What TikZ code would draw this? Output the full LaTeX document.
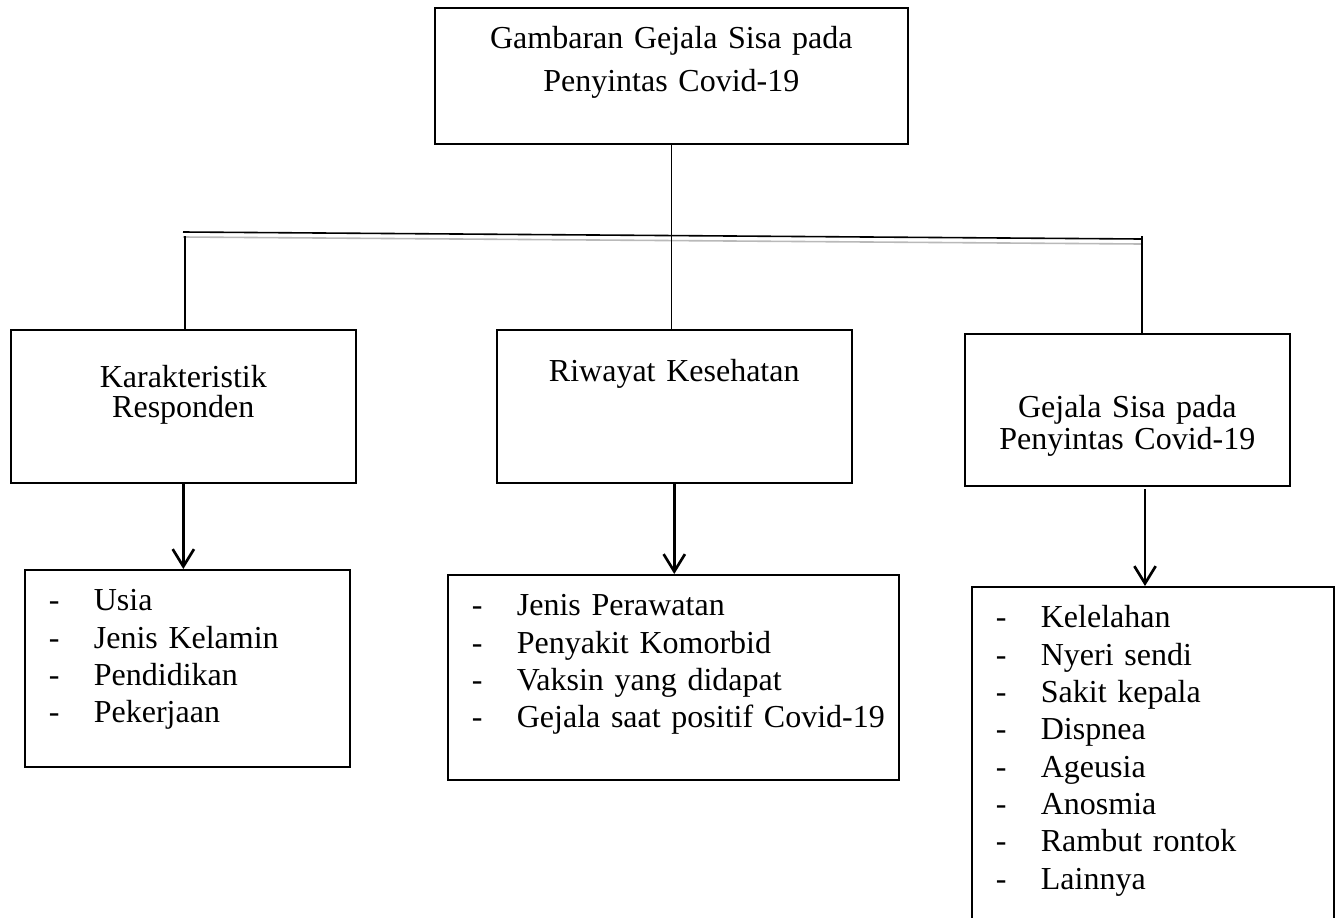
\documentclass[tikz,border=0pt]{standalone}
\usepackage{fontspec}
\setmainfont{Liberation Serif}
\usetikzlibrary{arrows.meta}

\newcommand{\itm}[1]{\makebox[16.9pt][l]{-}\mbox{#1}}

\begin{document}
\begin{tikzpicture}[
  x=0.375pt, y=-0.375pt,
  hbox/.style={draw, line width=0.6pt, anchor=north west, align=center,
               inner sep=0pt, font=\fontsize{12}{12}\selectfont},
  lbox/.style={draw, line width=0.6pt, anchor=north west, align=left,
               inner xsep=9pt, inner ysep=0pt, text height=15.4pt,
               font=\fontsize{12}{14}\selectfont},
  conn/.style={line width=0.6pt},
  arr/.style={line width=1.1pt,
              -{Straight Barb[length=6.5pt, width=8pt, line width=1pt]}},
]
  \useasboundingbox (0,0) rectangle (1337,917);

  % Top box
  \node[hbox, text width=177.4pt, text height=15.4pt, text depth=35.6pt,
        font=\fontsize{12}{16.1}\selectfont] (judul) at (434,7)
    {Gambaran Gejala Sisa pada\\Penyintas Covid-19};

  % Three sub-boxes
  \node[hbox, text width=129.4pt, text height=21.75pt, text depth=35.75pt,
        font=\fontsize{12}{11}\selectfont]
    (karakter) at (10,329) {Karakteristik\\Responden};
  \node[hbox, text width=133.1pt, text height=19.5pt, text depth=37.9pt]
    (riwayat) at (496,329) {Riwayat Kesehatan};
  \node[hbox, text width=121.9pt, text height=31.5pt, text depth=25.5pt]
    (gejala) at (964,333) {Gejala Sisa pada\\Penyintas Covid-19};

  % Lists
  \node[lbox, text width=103.9pt, text depth=58.5pt] (list1) at (24,569)
    {\itm{Usia}\\\itm{Jenis Kelamin}\\\itm{Pendidikan}\\\itm{Pekerjaan}};
  \node[lbox, text width=151.1pt, text depth=61.5pt] (list2) at (447,574)
    {\itm{Jenis Perawatan}\\\itm{Penyakit Komorbid}\\
     \itm{Vaksin yang didapat}\\\itm{Gejala saat positif Covid-19}};
  \node[lbox, text width=117.75pt, text depth=115.6pt] (list3) at (971,586)
    {\itm{Kelelahan}\\\itm{Nyeri sendi}\\\itm{Sakit kepala}\\\itm{Dispnea}\\
     \itm{Ageusia}\\\itm{Anosmia}\\\itm{Rambut rontok}\\\itm{Lainnya}};

  % Branch bar (double line)
  \coordinate (barA) at (183,232);
  \coordinate (barB) at (1141,239);
  \coordinate (barC) at (183,237);
  \coordinate (barD) at (1141,244);
  \coordinate (kiri) at (185,236);
  \coordinate (kanan) at (1142,236);
  \coordinate (panah) at (1145,489);
  \draw[conn] (barA) -- (barB);
  \draw[conn, gray!55] (barC) -- (barD);

  % Connectors
  \draw[conn] (judul.south) -- (judul.south |- riwayat.north);
  \draw[conn] (kiri) -- (kiri |- karakter.north);
  \draw[conn] (kanan) -- (kanan |- gejala.north);

  % Arrows to the lists
  \draw[arr] (karakter.south) -- (karakter.south |- list1.north);
  \draw[arr] (riwayat.south) -- (riwayat.south |- list2.north);
  \draw[arr] (panah) -- (panah |- list3.north);
\end{tikzpicture}
\end{document}
